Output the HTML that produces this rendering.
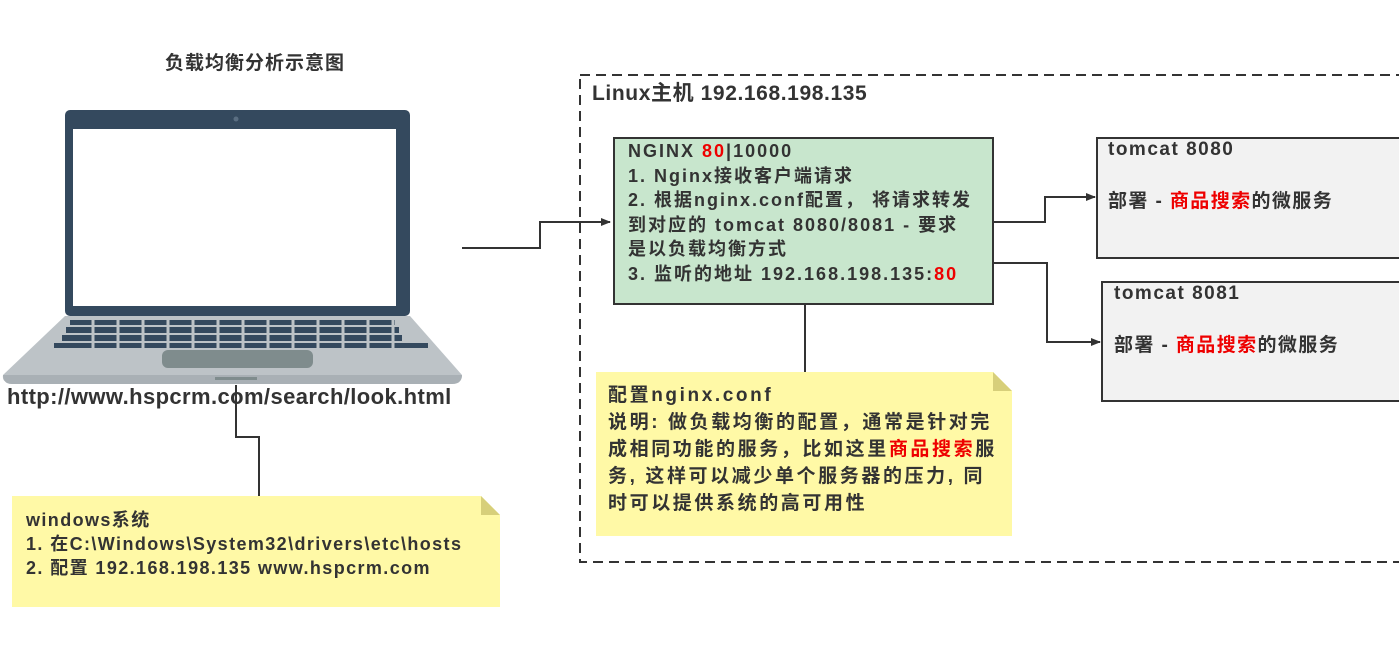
<!DOCTYPE html>
<html><head><meta charset="utf-8"><style>
body{margin:0;width:1399px;height:647px;background:#fff;position:relative;overflow:hidden;font-family:"Liberation Sans","Noto Sans CJK SC",sans-serif;font-weight:bold;color:#333}
.t{position:absolute;white-space:nowrap}
.r{color:#e00}
</style></head><body>
<svg width="1399" height="647" style="position:absolute;left:0;top:0">
<defs><marker id="a" markerWidth="10" markerHeight="10" refX="9" refY="5" orient="auto" markerUnits="userSpaceOnUse"><path d="M0,1 L10,5 L0,9 Z" fill="#333"/></marker></defs>
<rect x="65" y="110" width="345" height="206" rx="5" fill="#34495e"/>
<rect x="73" y="129" width="323" height="177" fill="#fff"/>
<circle cx="236" cy="119" r="2.5" fill="#5a6e82"/>
<path d="M65,316 L410,316 L462,375 Q462,382 455,382 L8,382 Q2,382 3,375 Z" fill="#bdc3c7"/>
<path d="M3,375 L462,375 Q462,384 452,384 L12,384 Q3,384 3,375Z" fill="#a9b0b5"/>
<g fill="#34495e">
<rect x="70" y="320" width="325" height="5"/>
<rect x="66" y="327" width="333" height="6"/>
<rect x="62" y="335" width="340" height="6"/>
<rect x="54" y="343" width="374" height="5"/>
</g>
<g stroke="#bdc3c7" stroke-width="3">
<path d="M93,320V348 M118,320V348 M143,320V348 M168,320V348 M193,320V348 M218,320V348 M243,320V348 M268,320V348 M293,320V348 M318,320V348 M343,320V348 M368,320V348 M393,320V348"/>
</g>
<rect x="162" y="350" width="151" height="18" rx="6" fill="#7f8c8d"/>
<rect x="215" y="377" width="42" height="3" fill="#7f8c8d"/>
<g stroke="#333" stroke-width="2" fill="none">
<path d="M236,385 V437 H259 V497"/>
<path d="M462,248 H540 V222 H610" marker-end="url(#a)"/>
<path d="M993,222 H1045 V197 H1095" marker-end="url(#a)"/>
<path d="M993,263 H1047 V342 H1100" marker-end="url(#a)"/>
<path d="M805,305 V373"/>
</g>
<rect x="580" y="75" width="840" height="487" fill="none" stroke="#333" stroke-width="2" stroke-dasharray="10,6"/>
<rect x="614" y="138" width="379" height="166" fill="#c8e6cd" stroke="#333" stroke-width="2"/>
<rect x="1097" y="138" width="320" height="120" fill="#f2f2f2" stroke="#333" stroke-width="2"/>
<rect x="1102" y="282" width="320" height="119" fill="#f2f2f2" stroke="#333" stroke-width="2"/>
<path d="M596,372 H993 L1012,391 V536 H596Z" fill="#fff9a6"/>
<path d="M993,372 L1012,391 H993Z" fill="#d7cf7a"/>
<path d="M12,496 H481 L500,515 V607 H12Z" fill="#fff9a6"/>
<path d="M481,496 L500,515 H481Z" fill="#d7cf7a"/>
</svg>
<div class="t" style="left:165px;top:48px;font-size:19px;letter-spacing:1px">负载均衡分析示意图</div>
<div class="t" style="left:7px;top:384px;font-size:22px;letter-spacing:0.4px">http://www.hspcrm.com/search/look.html</div>
<div class="t" style="left:592px;top:77px;font-size:21px;letter-spacing:0.6px">Linux主机 192.168.198.135</div>
<div class="t" style="left:628px;top:139px;font-size:18px;line-height:24.6px;letter-spacing:2px">NGINX <span class="r">80</span>|10000<br>1. Nginx接收客户端请求<br>2. 根据nginx.conf配置， 将请求转发<br>到对应的 tomcat 8080/8081 - 要求<br>是以负载均衡方式<br>3. 监听的地址 192.168.198.135:<span class="r">80</span></div>
<div class="t" style="left:1108px;top:139px;font-size:19px;letter-spacing:1.5px">tomcat 8080</div>
<div class="t" style="left:1108px;top:186px;font-size:19px;letter-spacing:1.4px">部署 - <span class="r">商品搜索</span>的微服务</div>
<div class="t" style="left:1114px;top:283px;font-size:19px;letter-spacing:1.5px">tomcat 8081</div>
<div class="t" style="left:1114px;top:330px;font-size:19px;letter-spacing:1.4px">部署 - <span class="r">商品搜索</span>的微服务</div>
<div class="t" style="left:608px;top:382px;font-size:19px;line-height:27px;letter-spacing:2.6px">配置nginx.conf<br>说明: 做负载均衡的配置，通常是针对完<br>成相同功能的服务，比如这里<span class="r">商品搜索</span>服<br>务, 这样可以减少单个服务器的压力, 同<br>时可以提供系统的高可用性</div>
<div class="t" style="left:26px;top:508px;font-size:18px;line-height:24px;letter-spacing:1.4px">windows系统<br>1. 在C:\Windows\System32\drivers\etc\hosts<br>2. 配置 192.168.198.135 www.hspcrm.com</div>
</body></html>
